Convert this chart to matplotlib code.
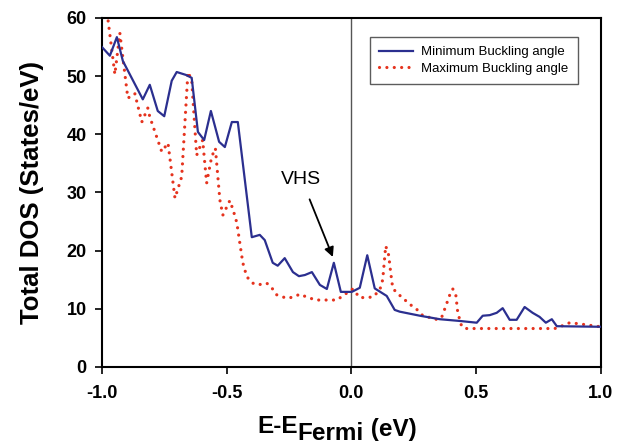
import matplotlib
matplotlib.use("Agg")
import matplotlib.pyplot as plt

plt.rcParams['font.family'] = ['Liberation Sans', 'DejaVu Sans']

# Minimum buckling angle (solid blue)
e_min = [-1.0, -0.968, -0.940, -0.916, -0.836, -0.808, -0.776, -0.750, -0.720, -0.700,
         -0.663, -0.640, -0.615, -0.590, -0.563, -0.530, -0.507, -0.479, -0.455, -0.399,
         -0.367, -0.347, -0.315, -0.295, -0.267, -0.234, -0.210, -0.186, -0.158, -0.126,
         -0.098, -0.070, -0.042, 0.002, 0.034, 0.064, 0.094, 0.142, 0.174, 0.194,
         0.275, 0.355, 0.435, 0.503, 0.527, 0.555, 0.583, 0.607, 0.635, 0.663,
         0.695, 0.727, 0.755, 0.780, 0.804, 0.824, 1.0]
dos_min = [55.0, 53.5, 56.7, 52.6, 46.0, 48.5, 44.0, 43.1, 49.2, 50.7,
           50.2, 49.7, 40.4, 39.0, 44.0, 38.7, 37.8, 42.1, 42.1, 22.3,
           22.7, 21.8, 17.9, 17.4, 18.7, 16.3, 15.6, 15.8, 16.3, 14.1,
           13.4, 17.9, 12.9, 12.9, 13.6, 19.2, 13.5, 12.2, 9.8, 9.5,
           8.8, 8.2, 7.9, 7.6, 8.8, 8.9, 9.3, 10.1, 8.1, 8.1,
           10.3, 9.3, 8.6, 7.6, 8.2, 7.0, 6.9]

# Maximum buckling angle (dotted red)
e_max = [-1.0, -0.948, -0.928, -0.896, -0.868, -0.840, -0.816, -0.808, -0.760, -0.735,
         -0.707, -0.680, -0.655, -0.640, -0.620, -0.596, -0.580, -0.560, -0.545, -0.527,
         -0.515, -0.487, -0.474, -0.459, -0.447, -0.435, -0.419, -0.395, -0.375, -0.339,
         -0.319, -0.299, -0.259, -0.234, -0.206, -0.178, -0.142, -0.098, -0.058, -0.018,
         0.006, 0.034, 0.086, 0.114, 0.126, 0.138, 0.150, 0.158, 0.166, 0.182,
         0.206, 0.230, 0.260, 0.287, 0.323, 0.347, 0.363, 0.375, 0.395, 0.407,
         0.419, 0.427, 0.443, 0.463, 0.816, 0.836, 0.876, 0.916, 0.948, 1.0]
dos_max = [68.0, 50.3, 57.4, 46.2, 47.0, 42.1, 44.5, 43.0, 37.0, 38.5,
           29.0, 32.7, 50.7, 49.3, 36.4, 39.0, 31.6, 36.1, 37.6, 28.7,
           26.1, 28.6, 27.0, 24.8, 21.3, 17.9, 15.5, 14.4, 14.1, 14.4,
           13.6, 12.4, 11.8, 12.0, 12.5, 12.0, 11.5, 11.5, 11.5, 12.7,
           13.4, 11.9, 12.0, 13.2, 15.0, 20.8, 19.2, 16.2, 13.6, 12.7,
           11.9, 10.9, 10.0, 8.8, 8.4, 8.1, 8.6, 10.0, 12.4, 13.4,
           12.4, 9.3, 6.9, 6.6, 6.6, 6.9, 7.6, 7.4, 7.2, 6.9]

x_ticks = [-1.0, -0.5, 0.0, 0.5, 1.0]
x_ticklabels = ['-1.0', '-0.5', '0.0', '0.5', '1.0']
y_ticks = [0, 10, 20, 30, 40, 50, 60]

W, H = 629, 448
fig = plt.figure(figsize=(W / 100, H / 100), dpi=100)
ax = fig.add_axes([0.162, 0.181, 0.793, 0.779])

ax.axvline(0.0, color='#555555', lw=1.0, zorder=1)
ax.plot(e_min, dos_min, color='#2B2F8F', lw=1.6, label='Minimum Buckling angle', zorder=3)
ax.plot(e_max, dos_max, color='#E5331E', lw=2.3, linestyle=(0, (0.01, 2.3)),
        dash_capstyle='round', label='Maximum Buckling angle', zorder=2)

ax.set_xlim(-1.0, 1.0)
ax.set_ylim(0, 60)
ax.set_xticks(x_ticks)
ax.set_xticklabels(x_ticklabels)
ax.set_yticks(y_ticks)
for s in ax.spines.values():
    s.set_linewidth(1.5)
ax.tick_params(direction='out', length=5, width=1.2, labelsize=13)
ax.tick_params(axis='x', pad=8)
ax.tick_params(axis='y', pad=6)
for lab in ax.get_xticklabels() + ax.get_yticklabels():
    lab.set_fontweight('bold')

ax.set_ylabel('Total DOS (States/eV)', fontsize=18.5, fontweight='bold', labelpad=16)

# x label with large subscript, placed piece by piece
fs = 17.5
base_y = (H - 433) / H
fig.canvas.draw()
r = fig.canvas.get_renderer()
t1 = fig.text(257 / W, base_y, 'E-E', fontsize=fs, fontweight='bold', ha='left', va='baseline')
x1 = t1.get_window_extent(r).x1
t2 = fig.text(x1 / W, base_y - 7 / H, 'Fermi', fontsize=fs, fontweight='bold', ha='left', va='baseline')
x2 = t2.get_window_extent(r).x1
t3 = fig.text(x2 / W, base_y - 3 / H, ' (eV)', fontsize=fs, fontweight='bold', ha='left', va='baseline')

ax.annotate('VHS', xy=(-0.074, 18.9), xytext=(-0.20, 32.3), fontsize=14,
            ha='center', va='center',
            arrowprops=dict(arrowstyle='-|>', color='black', lw=1.3, mutation_scale=14,
                            shrinkA=7, shrinkB=0))

leg = ax.legend(loc='upper right', bbox_to_anchor=(0.954, 0.946), borderaxespad=0,
                fontsize=9.5, frameon=True, fancybox=False, edgecolor='#333333',
                handlelength=2.6, borderpad=0.7, labelspacing=0.35, handletextpad=0.6)
leg.get_frame().set_linewidth(1.0)

fig.savefig('out.png', dpi=100)
